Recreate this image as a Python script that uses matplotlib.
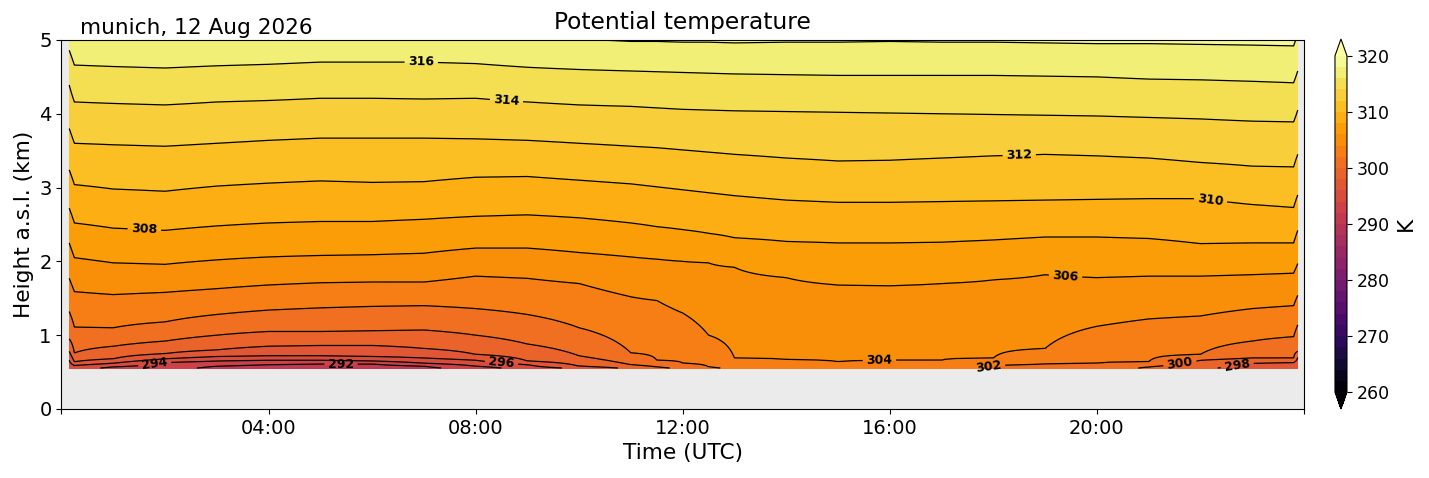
import numpy as np
import matplotlib
matplotlib.use("Agg")
import matplotlib.pyplot as plt

# time of each profile column (hours UTC)
times = [0.15, 0.25, 1, 2, 3, 4, 5, 6, 7, 8, 9, 10, 11, 11.5, 12, 12.5, 13,
         14, 15, 16, 17, 18, 19, 20, 21, 22, 23, 23.8, 23.88]

# potential temperature at the lowest data level (0.555 km)
surface_theta = [294.5, 295.0, 293.5, 292.8, 291.5, 291.0, 290.8, 290.8, 291.5,
                 293.0, 295.0, 296.5, 298.5, 299.5, 300.5, 301.5, 302.6, 302.8,
                 302.9, 302.8, 302.5, 301.8, 301.2, 300.8, 299.8, 298.4, 297.2,
                 296.8, 296.5]
surface_height = 0.555

nan = np.nan
# height (km) of each isentrope per column, nan = below the lowest level
isentrope_heights = {
    292: [nan, nan, nan, nan, 0.58, 0.60, 0.61, 0.61, 0.58, nan, nan, nan, nan, nan,
          nan, nan, nan, nan, nan, nan, nan, nan, nan, nan, nan, nan, nan, nan, nan],
    294: [nan, nan, 0.57, 0.63, 0.65, 0.66, 0.66, 0.65, 0.62, 0.58, nan, nan, nan, nan,
          nan, nan, nan, nan, nan, nan, nan, nan, nan, nan, nan, nan, nan, nan, nan],
    296: [0.66, 0.59, 0.62, 0.68, 0.71, 0.72, 0.72, 0.71, 0.69, 0.66, 0.60, nan, nan, nan,
          nan, nan, nan, nan, nan, nan, nan, nan, nan, nan, nan, nan, nan, nan, nan],
    298: [0.78, 0.64, 0.68, 0.75, 0.80, 0.85, 0.86, 0.86, 0.82, 0.74, 0.65, 0.58, nan, nan,
          nan, nan, nan, nan, nan, nan, nan, nan, nan, nan, nan, nan, 0.62, 0.63, 0.70],
    300: [0.95, 0.76, 0.85, 0.92, 1.00, 1.05, 1.05, 1.06, 1.07, 1.00, 0.88, 0.72, 0.60, 0.57,
          nan, nan, nan, nan, nan, nan, nan, nan, nan, nan, 0.57, 0.66, 0.69, 0.69, 0.78],
    302: [1.32, 1.11, 1.10, 1.18, 1.28, 1.34, 1.37, 1.39, 1.40, 1.36, 1.28, 1.10, 0.76, 0.66,
          0.62, 0.57, nan, nan, nan, nan, nan, 0.59, 0.61, 0.62, 0.64, 0.74, 0.92, 0.98, 1.14],
    304: [1.77, 1.59, 1.55, 1.58, 1.63, 1.68, 1.71, 1.72, 1.72, 1.80, 1.77, 1.70, 1.52, 1.47,
          1.30, 1.00, 0.69, 0.67, 0.64, 0.66, 0.66, 0.69, 0.82, 1.12, 1.22, 1.26, 1.36, 1.40, 1.54],
    306: [2.25, 2.05, 1.98, 1.96, 2.02, 2.06, 2.08, 2.09, 2.11, 2.18, 2.18, 2.12, 2.06, 2.03,
          2.00, 1.98, 1.92, 1.78, 1.68, 1.67, 1.70, 1.75, 1.82, 1.78, 1.80, 1.80, 1.82, 1.84, 1.97],
    308: [2.72, 2.52, 2.45, 2.42, 2.48, 2.52, 2.54, 2.54, 2.57, 2.61, 2.63, 2.59, 2.52, 2.47,
          2.43, 2.38, 2.32, 2.27, 2.25, 2.25, 2.26, 2.29, 2.33, 2.33, 2.31, 2.24, 2.25, 2.25, 2.42],
    310: [3.24, 3.04, 2.98, 2.95, 3.02, 3.06, 3.09, 3.07, 3.08, 3.14, 3.15, 3.10, 3.05, 3.01,
          2.97, 2.93, 2.89, 2.83, 2.80, 2.80, 2.81, 2.82, 2.83, 2.84, 2.85, 2.85, 2.77, 2.73, 2.90],
    312: [3.80, 3.60, 3.58, 3.56, 3.60, 3.64, 3.67, 3.67, 3.67, 3.66, 3.64, 3.60, 3.56, 3.54,
          3.51, 3.48, 3.45, 3.40, 3.36, 3.37, 3.40, 3.43, 3.45, 3.43, 3.40, 3.34, 3.29, 3.28, 3.45],
    314: [4.39, 4.16, 4.14, 4.12, 4.16, 4.18, 4.21, 4.21, 4.20, 4.21, 4.16, 4.12, 4.10, 4.08,
          4.06, 4.05, 4.04, 4.03, 4.02, 4.01, 4.00, 3.99, 3.98, 3.97, 3.95, 3.93, 3.90, 3.89, 4.05],
    316: [4.86, 4.66, 4.64, 4.62, 4.65, 4.67, 4.70, 4.70, 4.70, 4.68, 4.63, 4.60, 4.58, 4.57,
          4.56, 4.55, 4.54, 4.53, 4.52, 4.52, 4.52, 4.52, 4.51, 4.50, 4.47, 4.46, 4.44, 4.42, 4.58],
    318: [5.30, 5.15, 5.14, 5.12, 5.14, 5.16, 5.18, 5.18, 5.16, 5.12, 5.06, 5.01, 4.98, 4.98,
          4.97, 4.97, 4.96, 4.97, 4.97, 4.98, 4.97, 4.97, 4.96, 4.95, 4.95, 4.94, 4.93, 4.92, 5.08],
    320: [5.80, 5.65, 5.65, 5.65, 5.65, 5.65, 5.65, 5.65, 5.65, 5.65, 5.60, 5.50, 5.48, 5.47,
          5.47, 5.46, 5.46, 5.47, 5.47, 5.48, 5.47, 5.47, 5.46, 5.45, 5.45, 5.44, 5.43, 5.42, 5.60],
}

# contour label anchors (hour, km)
label_spots = {316: (6.95, 4.70), 314: (8.6, 4.21), 312: (18.5, 3.45), 310: (22.2, 2.85),
               308: (1.6, 2.43), 306: (19.4, 1.85), 304: (15.8, 0.66), 302: (17.9, 0.60),
               300: (21.6, 0.63), 298: (22.7, 0.63), 296: (8.5, 0.64), 294: (1.8, 0.62),
               292: (5.4, 0.61)}

xtick_pos = [0, 4, 8, 12, 16, 20, 24]
xtick_labels = ['', '04:00', '08:00', '12:00', '16:00', '20:00', '']
cbar_ticks = [260, 270, 280, 290, 300, 310, 320]

# build the gridded field for contourf
z = np.linspace(surface_height, 5.0, 450)
levels_sorted = sorted(isentrope_heights)
theta = np.zeros((len(z), len(times)))
for j in range(len(times)):
    zp = [surface_height]
    tp = [surface_theta[j]]
    for lev in levels_sorted:
        h = isentrope_heights[lev][j]
        if not np.isnan(h):
            zp.append(h)
            tp.append(lev)
    theta[:, j] = np.interp(z, zp, tp)

fig = plt.figure(figsize=(14.29, 4.78), dpi=100)
ax = fig.add_axes([0.043, 0.1444, 0.8695, 0.772])
ax.set_facecolor('#ebebeb')

levels = np.arange(260, 322, 2)
cf = ax.contourf(times, z, theta, levels=levels, cmap='inferno', extend='both')

# one contour set per isentrope so each label lands on its own line
for lev in levels:
    cs = ax.contour(times, z, theta, levels=[lev], colors='k', linewidths=0.9)
    if lev in label_spots:
        txts = ax.clabel(cs, manual=[label_spots[lev]], inline=True, fmt='%d', fontsize=9)
        for t in txts:
            t.set_fontweight('bold')

ax.set_xlim(0, 24)
ax.set_ylim(0, 5)
ax.set_xticks(xtick_pos)
ax.set_xticklabels(xtick_labels)
ax.tick_params(labelsize=14)
ax.set_xlabel('Time (UTC)', fontsize=15.6)
ax.set_ylabel('Height a.s.l. (km)', fontsize=15.6)
ax.set_title('Potential temperature', fontsize=16.8, pad=8)
ax.text(0.015, 1.004, 'munich, 12 Aug 2026', transform=ax.transAxes,
        fontsize=15.6, ha='left', va='bottom')

cax = fig.add_axes([0.9342, 0.1444, 0.0084, 0.774])
cb = fig.colorbar(cf, cax=cax)
cb.set_ticks(cbar_ticks)
cb.ax.tick_params(labelsize=12.5)
cb.set_label('K', fontsize=15.6)

fig.savefig('out.png', dpi=100)
